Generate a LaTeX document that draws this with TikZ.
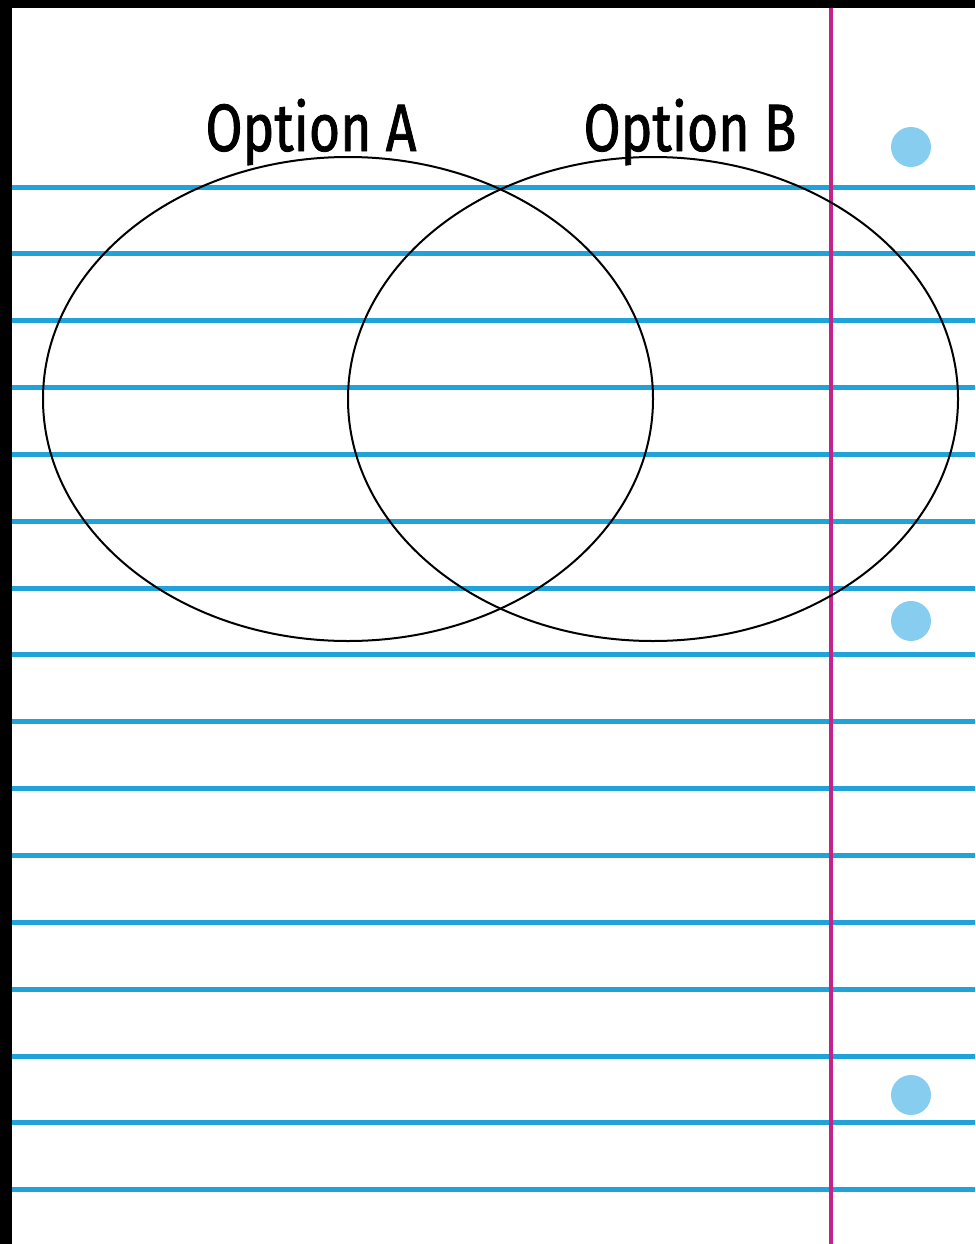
\documentclass[tikz,border=0pt]{standalone}
\usepackage{fontspec}
\newfontfamily\handfont[FakeStretch=0.8,FakeBold=1.2]{Fira Sans}
\usetikzlibrary{shapes.geometric}
\definecolor{ruleblue}{RGB}{33,163,218}
\definecolor{marginpink}{RGB}{196,34,140}
\definecolor{holeblue}{RGB}{135,205,240}
\tikzset{
  rule/.style={ruleblue,line width=5pt},
  hole/.style={circle,fill=holeblue,inner sep=0pt,minimum size=40pt},
  venn/.style={draw,ellipse,line width=2pt,minimum width=610pt,minimum height=484pt,inner sep=0pt},
  title/.style={font=\handfont\fontsize{67}{67}\selectfont,inner sep=0pt,anchor=base}
}
\begin{document}
\begin{tikzpicture}[x=1pt,y=-1pt]
  \useasboundingbox (0,0) rectangle (975,1244);
  \fill[white] (0,0) rectangle (975,1244);
  % notebook paper
  \fill[black] (0,0) rectangle (975,8);
  \fill[black] (0,0) rectangle (12,1244);
  \foreach \k in {0,...,15}
    \draw[rule] (12,187+66.85*\k) -- (975,187+66.85*\k);
  \draw[marginpink,line width=4pt] (831,8) -- (831,1244);
  \node[hole] (h1) at (911,147) {};
  \node[hole] (h2) at (911,621) {};
  \node[hole] (h3) at (911,1095) {};
  % the two sets
  \node[venn] (setA) at (348,399) {};
  \node[venn] (setB) at (653,399) {};
  \node[title] (optA) at (311,151) {Option A};
  \node[title] (optB) at (690,151) {Option B};
\end{tikzpicture}
\end{document}
